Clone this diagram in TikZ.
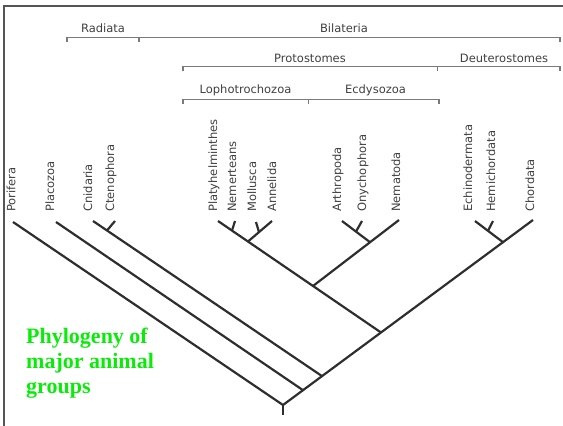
\documentclass[tikz,border=0pt]{standalone}
\usepackage{fontspec}
\newfontfamily\lblfont{DejaVu Sans}
\newfontfamily\ttlfont{Liberation Serif}
\definecolor{treegray}{HTML}{2E2E2E}
\definecolor{brkgray}{HTML}{7A7A7A}
\definecolor{lblgray}{HTML}{404040}
\definecolor{framegray}{HTML}{555555}
\definecolor{titlegreen}{RGB}{10,235,10}
\begin{document}
\begin{tikzpicture}[x=1pt,y=-1pt,
  tree/.style={line width=2.2pt, draw=treegray, line join=round},
  brk/.style={line width=1.1pt, draw=brkgray},
  frame/.style={line width=1.8pt, draw=framegray},
  taxon/.style={font=\lblfont\fontsize{11.5}{12}\selectfont, text=lblgray, rotate=90, anchor=base west, inner sep=0pt},
  grp/.style={font=\lblfont\fontsize{11.5}{12}\selectfont, text=lblgray, anchor=base, inner sep=0pt},
  title/.style={font=\ttlfont\bfseries\fontsize{22}{25}\selectfont, text=titlegreen, align=left, anchor=north west, inner sep=0pt}
]
\useasboundingbox (0,0) rectangle (563,426);

% frame
\coordinate (fTL) at (4,6);
\coordinate (fTR) at (563,6);
\coordinate (fBL) at (4,426);
\draw[frame] (fTR) -- (fTL) -- (fBL);

% group labels
\node[grp] (radiata) at (103,32.5) {Radiata};
\node[grp] (bilateria) at (344,32.5) {Bilateria};
\node[grp] (proto) at (310,62.3) {Protostomes};
\node[grp] (deutero) at (504,62.3) {Deuterostomes};
\node[grp] (lopho) at (245.5,93.3) {Lophotrochozoa};
\node[grp] (ecdy) at (375.5,93.3) {Ecdysozoa};

% brackets
\coordinate (bRa1) at (67,37.7);  \coordinate (bRa1d) at (67,42);
\coordinate (bRa2) at (139,37.7); \coordinate (bRa2d) at (139,42);
\coordinate (bBi2) at (560,37.7); \coordinate (bBi2d) at (560,42);
\draw[brk] (bRa1d) -- (bRa1) -- (bBi2) -- (bBi2d);
\draw[brk] (bRa2) -- (bRa2d);
\coordinate (bPr1) at (183,66.7); \coordinate (bPr1d) at (183,71);
\coordinate (bPr2) at (437.5,66.7); \coordinate (bPr2d) at (437.5,71);
\coordinate (bDe2) at (560,66.7); \coordinate (bDe2d) at (560,71);
\draw[brk] (bPr1d) -- (bPr1) -- (bDe2) -- (bDe2d);
\draw[brk] (bPr2) -- (bPr2d);
\coordinate (bLo1) at (183,99.3); \coordinate (bLo1d) at (183,104);
\coordinate (bLo2) at (308.5,99.3); \coordinate (bLo2d) at (308.5,104);
\coordinate (bEc2) at (439,99.3); \coordinate (bEc2d) at (439,104);
\draw[brk] (bLo1d) -- (bLo1) -- (bEc2) -- (bEc2d);
\draw[brk] (bLo2) -- (bLo2d);

% taxon labels
\node[taxon] (porifera) at (15.5,212) {Porifera};
\node[taxon] (placozoa) at (54,212) {Placozoa};
\node[taxon] (cnidaria) at (92,212) {Cnidaria};
\node[taxon] (ctenophora) at (114,212) {Ctenophora};
\node[taxon] (platy) at (217,212) {Platyhelminthes};
\node[taxon] (nemert) at (236,212) {Nemerteans};
\node[taxon] (mollusca) at (256,212) {Mollusca};
\node[taxon] (annelida) at (276,212) {Annelida};
\node[taxon] (arthro) at (341,212) {Arthropoda};
\node[taxon] (onycho) at (366,212) {Onychophora};
\node[taxon] (nemato) at (400,212) {Nematoda};
\node[taxon] (echino) at (472,212) {Echinodermata};
\node[taxon] (hemi) at (495,212) {Hemichordata};
\node[taxon] (chordata) at (534,212) {Chordata};

% tips
\coordinate (tPor) at (13,222);
\coordinate (tPla) at (56,222);
\coordinate (tCni) at (93,221);
\coordinate (tCte) at (115,221);
\coordinate (tPly) at (218,221);
\coordinate (tNem) at (235,221);
\coordinate (tMol) at (256,222);
\coordinate (tAnn) at (272,221);
\coordinate (tArt) at (342,221);
\coordinate (tOny) at (362,221);
\coordinate (tNmt) at (399,220);
\coordinate (tEch) at (475,221);
\coordinate (tHem) at (493,221);
\coordinate (tCho) at (533,220);

% junctions
\coordinate (root) at (283,405);
\coordinate (stub) at (283,415);
\coordinate (jPla) at (303,390.2);
\coordinate (jCni) at (322,376.1);
\coordinate (jDeu) at (381,332.5);
\coordinate (jEcd) at (313,286);
\coordinate (jEcdT) at (370,242.2);
\coordinate (jOny) at (356,231.6);
\coordinate (jLop) at (248,241.5);
\coordinate (jMol) at (259,232.1);
\coordinate (jNem) at (232,230.6);
\coordinate (jCte) at (107,230.5);
\coordinate (jDeT) at (503,242.2);
\coordinate (jHem) at (488,230.8);

% tree
\draw[tree] (stub) -- (root);
\draw[tree] (tPor) -- (root);
\draw[tree] (root) -- (tCho);
\draw[tree] (tPla) -- (jPla);
\draw[tree] (tCni) -- (jCni);
\draw[tree] (tCte) -- (jCte);
\draw[tree] (tPly) -- (jDeu);
\draw[tree] (tNem) -- (jNem);
\draw[tree] (tAnn) -- (jLop);
\draw[tree] (tMol) -- (jMol);
\draw[tree] (tNmt) -- (jEcd);
\draw[tree] (tArt) -- (jEcdT);
\draw[tree] (tOny) -- (jOny);
\draw[tree] (tEch) -- (jDeT);
\draw[tree] (tHem) -- (jHem);

% title
\node[title] (ttl) at (26,328) {Phylogeny of\\major animal\\groups};
\end{tikzpicture}
\end{document}
